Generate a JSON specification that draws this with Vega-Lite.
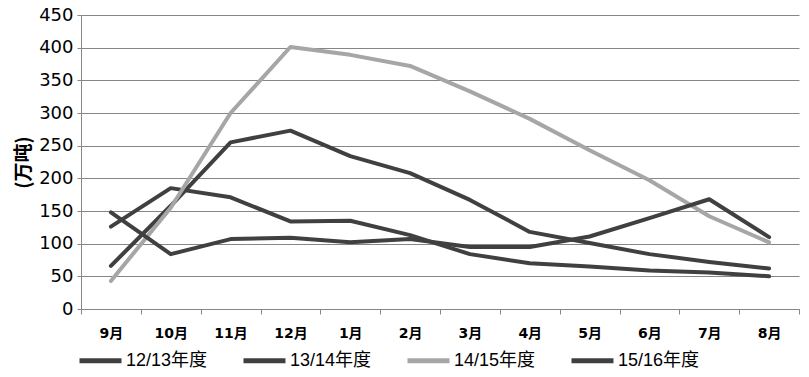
{
  "$schema": "https://vega.github.io/schema/vega-lite/v6.json",
  "width": 718,
  "height": 294,
  "autosize": {"type": "none"},
  "padding": {"left": 81, "top": 15, "right": 10, "bottom": 68},
  "background": "white",
  "data": {
    "values": [
      {"month": "9月", "season": "12/13年度", "value": 66},
      {"month": "10月", "season": "12/13年度", "value": 158},
      {"month": "11月", "season": "12/13年度", "value": 255},
      {"month": "12月", "season": "12/13年度", "value": 273},
      {"month": "1月", "season": "12/13年度", "value": 234},
      {"month": "2月", "season": "12/13年度", "value": 208},
      {"month": "3月", "season": "12/13年度", "value": 167},
      {"month": "4月", "season": "12/13年度", "value": 118},
      {"month": "5月", "season": "12/13年度", "value": 101},
      {"month": "6月", "season": "12/13年度", "value": 84},
      {"month": "7月", "season": "12/13年度", "value": 72},
      {"month": "8月", "season": "12/13年度", "value": 62},
      {"month": "9月", "season": "13/14年度", "value": 126},
      {"month": "10月", "season": "13/14年度", "value": 185},
      {"month": "11月", "season": "13/14年度", "value": 171},
      {"month": "12月", "season": "13/14年度", "value": 134},
      {"month": "1月", "season": "13/14年度", "value": 135},
      {"month": "2月", "season": "13/14年度", "value": 113},
      {"month": "3月", "season": "13/14年度", "value": 84},
      {"month": "4月", "season": "13/14年度", "value": 70},
      {"month": "5月", "season": "13/14年度", "value": 65},
      {"month": "6月", "season": "13/14年度", "value": 59},
      {"month": "7月", "season": "13/14年度", "value": 56},
      {"month": "8月", "season": "13/14年度", "value": 50},
      {"month": "9月", "season": "14/15年度", "value": 43},
      {"month": "10月", "season": "14/15年度", "value": 155},
      {"month": "11月", "season": "14/15年度", "value": 300},
      {"month": "12月", "season": "14/15年度", "value": 401},
      {"month": "1月", "season": "14/15年度", "value": 389},
      {"month": "2月", "season": "14/15年度", "value": 372},
      {"month": "3月", "season": "14/15年度", "value": 333},
      {"month": "4月", "season": "14/15年度", "value": 291},
      {"month": "5月", "season": "14/15年度", "value": 243},
      {"month": "6月", "season": "14/15年度", "value": 197},
      {"month": "7月", "season": "14/15年度", "value": 142},
      {"month": "8月", "season": "14/15年度", "value": 102},
      {"month": "9月", "season": "15/16年度", "value": 148},
      {"month": "10月", "season": "15/16年度", "value": 84},
      {"month": "11月", "season": "15/16年度", "value": 107},
      {"month": "12月", "season": "15/16年度", "value": 109},
      {"month": "1月", "season": "15/16年度", "value": 102},
      {"month": "2月", "season": "15/16年度", "value": 107},
      {"month": "3月", "season": "15/16年度", "value": 95},
      {"month": "4月", "season": "15/16年度", "value": 95},
      {"month": "5月", "season": "15/16年度", "value": 111},
      {"month": "6月", "season": "15/16年度", "value": 139},
      {"month": "7月", "season": "15/16年度", "value": 168},
      {"month": "8月", "season": "15/16年度", "value": 110}
    ]
  },
  "mark": {"type": "line", "strokeWidth": 4, "strokeJoin": "round", "strokeCap": "round"},
  "encoding": {
    "x": {
      "field": "month",
      "type": "ordinal",
      "sort": ["9月", "10月", "11月", "12月", "1月", "2月", "3月", "4月", "5月", "6月", "7月", "8月"],
      "bandPosition": 0.5,
      "scale": {"type": "band", "paddingInner": 0, "paddingOuter": 0},
      "axis": {
        "title": null,
        "labelAngle": 0,
        "tickBand": "extent",
        "ticks": true,
        "tickSize": 5,
        "tickColor": "#868686",
        "domainColor": "#868686",
        "labelFont": "DejaVu Sans, Noto Sans CJK SC",
        "labelFontSize": 14,
        "labelFontWeight": "bold",
        "labelColor": "#000000",
        "labelPadding": 12,
        "grid": false
      }
    },
    "y": {
      "field": "value",
      "type": "quantitative",
      "scale": {"domain": [0, 450], "nice": false},
      "axis": {
        "title": "(万吨)",
        "titleFont": "Noto Sans CJK SC",
        "titleFontSize": 19,
        "titleFontWeight": "bold",
        "titleColor": "#000000",
        "titlePadding": 5,
        "values": [0, 50, 100, 150, 200, 250, 300, 350, 400, 450],
        "labelFont": "DejaVu Sans",
        "labelFontSize": 18,
        "labelColor": "#000000",
        "labelPadding": 4,
        "tickSize": 4,
        "tickColor": "#868686",
        "domainColor": "#868686",
        "grid": true,
        "gridColor": "#868686",
        "gridWidth": 1
      }
    },
    "color": {
      "field": "season",
      "type": "nominal",
      "scale": {
        "domain": ["12/13年度", "13/14年度", "14/15年度", "15/16年度"],
        "range": ["#404040", "#404040", "#a6a6a6", "#404040"]
      },
      "legend": {
        "title": null,
        "orient": "none",
        "legendX": -4,
        "legendY": 322,
        "direction": "horizontal",
        "columns": 4,
        "columnPadding": 25,
        "symbolType": "stroke",
        "symbolSize": 1764,
        "symbolStrokeWidth": 5,
        "labelOffset": 2,
        "labelFont": "Liberation Sans, Noto Sans CJK SC",
        "labelFontSize": 18,
        "labelColor": "#000000"
      }
    }
  },
  "config": {
    "view": {"stroke": null}
  }
}
